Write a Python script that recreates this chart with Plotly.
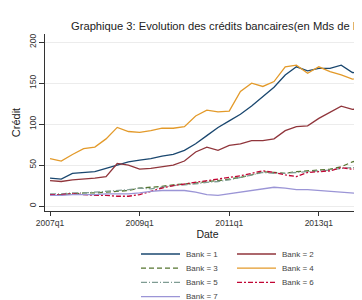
import plotly.graph_objects as go

quarters = ["2007q1", "2007q2", "2007q3", "2007q4", "2008q1", "2008q2", "2008q3", "2008q4",
            "2009q1", "2009q2", "2009q3", "2009q4", "2010q1", "2010q2", "2010q3", "2010q4",
            "2011q1", "2011q2", "2011q3", "2011q4", "2012q1", "2012q2", "2012q3", "2012q4",
            "2013q1", "2013q2", "2013q3", "2013q4", "2014q1", "2014q2"]

bank1 = [34, 33, 40, 41, 42, 46, 50, 54, 56, 58, 61, 63, 68, 76, 86, 96,
         104, 112, 122, 133, 145, 160, 170, 165, 168, 168, 172, 163, 161, 160]
bank2 = [31, 30, 32, 33, 34, 36, 52, 50, 45, 46, 48, 50, 55, 66, 72, 68,
         74, 76, 80, 80, 82, 92, 97, 98, 107, 115, 122, 118, 119, 120]
bank3 = [14, 14, 15, 16, 16, 17, 18, 19, 22, 23, 24, 26, 27, 28, 30, 31,
         33, 35, 38, 42, 41, 40, 42, 43, 44, 45, 48, 54, 57, 59]
bank4 = [58, 55, 63, 70, 72, 82, 96, 91, 90, 92, 95, 95, 97, 110, 117, 115,
         116, 140, 150, 146, 152, 170, 172, 162, 170, 164, 160, 155, 157, 158]
bank5 = [15, 15, 16, 16, 17, 18, 19, 20, 22, 21, 23, 25, 26, 27, 29, 30,
         32, 35, 38, 41, 40, 40, 41, 42, 43, 44, 46, 47, 47, 48]
bank6 = [14, 14, 15, 14, 13, 13, 12, 12, 14, 18, 22, 25, 27, 29, 31, 33,
         35, 37, 40, 43, 41, 38, 36, 41, 42, 43, 47, 45, 45, 46]
bank7 = [13, 13, 14, 14, 14, 15, 15, 15, 16, 18, 19, 19, 19, 17, 14, 13,
         15, 17, 19, 21, 23, 22, 20, 20, 19, 18, 17, 16, 15, 14]

series_names = ["Bank = 1", "Bank = 2", "Bank = 3", "Bank = 4", "Bank = 5", "Bank = 6", "Bank = 7"]
series_values = [bank1, bank2, bank3, bank4, bank5, bank6, bank7]

x_tick_labels = ["2007q1", "2009q1", "2011q1", "2013q1"]
y_tick_values = [0, 50, 100, 150, 200]

colors = ["#1a476f", "#90353b", "#55752f", "#e39a2a", "#7f9c93", "#c10534", "#9b95d6"]
dashes = ["solid", "solid", "5px,3px", "solid", "6px,2px,1px,2px", "5px,2px,2px,2px", "solid"]

W, H = 362, 300
L, R, T, B = 37, 0, 26, 97
PW, PH = W - L - R, H - T - B

def px2x(p):
    return (p - L) / PW

def px2y(p):
    return (H - B - p) / PH

fig = go.Figure()
for name, vals, c, d in zip(series_names, series_values, colors, dashes):
    fig.add_trace(go.Scatter(x=quarters, y=vals, mode="lines", name=name,
                             line=dict(color=c, width=1.3, dash=d), showlegend=False))

# manual legend (compact rows like the reference)
shapes = []
annotations = []
for k, (name, c, d) in enumerate(zip(series_names, colors, dashes)):
    row, col = k // 2, k % 2
    x0 = 133 if col == 0 else 229
    ty = 246 + 14.2 * row
    shapes.append(dict(type="line", xref="paper", yref="paper",
                       x0=px2x(x0), x1=px2x(x0 + 39), y0=px2y(ty), y1=px2y(ty),
                       line=dict(color=c, width=1.3, dash=d)))
    annotations.append(dict(text=name, xref="paper", yref="paper",
                            x=px2x(x0 + 44), y=px2y(ty), xanchor="left", yanchor="middle",
                            showarrow=False, borderpad=0,
                            font=dict(size=8, color="#444")))

fig.update_layout(
    width=W, height=H,
    margin=dict(l=L, r=R, t=T, b=B),
    paper_bgcolor="white", plot_bgcolor="white",
    font=dict(family="Liberation Sans, Arial, sans-serif", color="#333"),
    title=dict(text="Graphique 3: Evolution des crédits bancaires(en Mds de FCFA)",
               x=63 / W, xanchor="left", xref="container",
               y=1 - 18 / H, yanchor="middle", yref="container",
               pad=dict(l=0, r=0, t=0, b=0),
               font=dict(size=11.2, color="#222")),
    xaxis=dict(type="category", range=[-0.45, 28.57],
               tickmode="array", tickvals=x_tick_labels, ticktext=x_tick_labels,
               ticks="outside", ticklen=4, tickcolor="#333", tickwidth=1,
               showline=True, linecolor="#333", linewidth=1, showgrid=False,
               zeroline=False, tickfont=dict(size=8.5, color="#333"),
               title=dict(text="Date", font=dict(size=10.5, color="#222"), standoff=0)),
    yaxis=dict(range=[-6, 210], tickmode="array", tickvals=y_tick_values,
               ticks="outside", ticklen=5, tickcolor="#333", tickwidth=1,
               showline=True, linecolor="#333", linewidth=1,
               showgrid=True, gridcolor="#ececec", gridwidth=1, zeroline=False,
               tickangle=-90, tickfont=dict(size=8.5, color="#333"),
               title=dict(text="Crédit", font=dict(size=11, color="#222"), standoff=4)),
    shapes=shapes,
    annotations=annotations,
)

fig.write_html("out.html")
